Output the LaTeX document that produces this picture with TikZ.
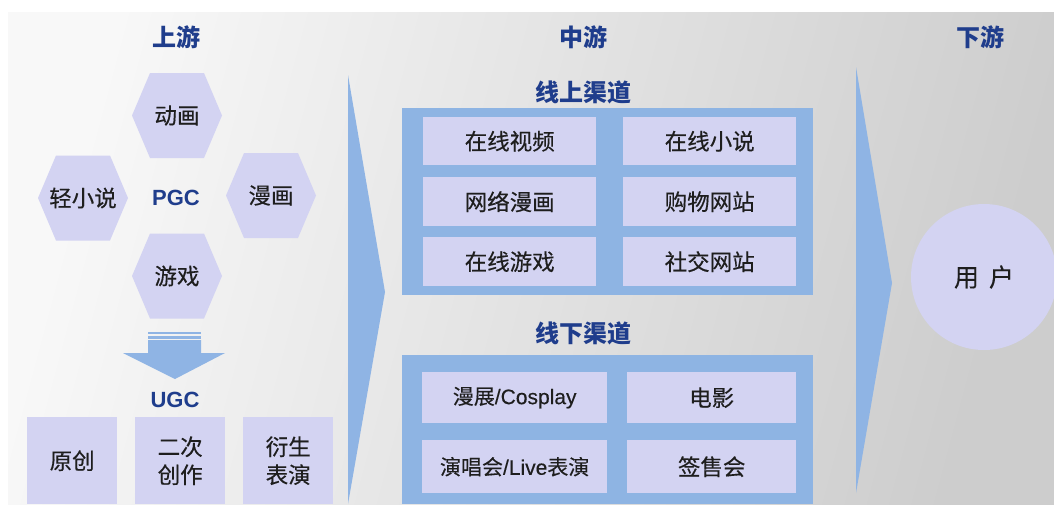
\documentclass[tikz,border=0pt]{standalone}
\usepackage{fontspec}
\setmainfont{Noto Sans CJK SC}
\newfontfamily\lat{Liberation Sans}
\newfontfamily\cjkm{Noto Sans CJK SC}[FakeBold=0.35]
\newfontfamily\latm{Liberation Sans}[FakeBold=0.35]
\usetikzlibrary{shapes.geometric}
\definecolor{hexc}{HTML}{D3D3F2}
\definecolor{panelc}{HTML}{8EB4E3}
\definecolor{arrowc}{HTML}{8FB4E4}
\definecolor{titlec}{HTML}{1F3D8C}
\definecolor{txtc}{HTML}{1E1E1E}
\definecolor{bgL}{HTML}{F8F8F8}
\definecolor{bgR}{HTML}{CDCDCD}
\newcommand\hexat[2]{\fill[hexc] (#1-45,#2) -- (#1-27,#2-42.5) -- (#1+27,#2-42.5) -- (#1+45,#2) -- (#1+27,#2+42.5) -- (#1-27,#2+42.5) -- cycle;}
\begin{document}
\begin{tikzpicture}[x=1pt,y=-1pt,
  lbl/.style={text=txtc,font=\cjkm\fontsize{22.5}{28}\selectfont,inner sep=0pt},
  ttl/.style={text=titlec,font=\fontsize{24}{28}\selectfont\bfseries,inner sep=0pt},
  latt/.style={text=titlec,font=\lat\fontsize{22}{26}\selectfont\bfseries,inner sep=0pt},
  box/.style={fill=hexc,draw=none,inner sep=0pt,anchor=north west},
]
\useasboundingbox (0,0) rectangle (1054,504);
\fill[white] (0,0) rectangle (1054,504);
\shade[left color=bgL,right color=bgR,shading angle=75] (8,12) rectangle (1054,504);

% titles
\node[ttl] (up) at (176,37) {上游};
\node[ttl] (mid) at (583,37) {中游};
\node[ttl] (down) at (980,37) {下游};

% hexagons
\hexat{177}{115.5}
\hexat{83}{198}
\hexat{271}{195.5}
\hexat{177}{276}
\node[lbl] (dh) at (177,115.5) {动画};
\node[lbl] (qxs) at (83,198) {轻小说};
\node[lbl] (mh) at (271,195.5) {漫画};
\node[lbl] (yx) at (177,276) {游戏};
\node[latt] (pgc) at (176,198) {PGC};

% down arrow
\fill[arrowc] (148,332) rectangle (201,334.2);
\fill[arrowc] (148,335.5) rectangle (201,338.5);
\fill[arrowc] (148,340) -- (201,340) -- (201,353) -- (225,353) -- (175,379) -- (123,353) -- (148,353) -- cycle;
\node[latt] (ugc) at (175,400) {UGC};

% UGC boxes
\node[box,minimum width=90pt,minimum height=87pt] (yc) at (27,417) {};
\node[box,minimum width=90pt,minimum height=87pt] (ec) at (135,417) {};
\node[box,minimum width=90pt,minimum height=87pt] (ys) at (243,417) {};
\node[lbl] at (yc.center) {原创};
\node[lbl,align=center] at (ec.center) {二次\\创作};
\node[lbl,align=center] at (ys.center) {衍生\\表演};

% middle chevrons
\fill[arrowc] (348,75) -- (385,292) -- (348,504) -- cycle;
\fill[arrowc] (856,67) -- (892,283) -- (856,493) -- cycle;

% online panel
\node[ttl] (on) at (583,92) {线上渠道};
\fill[panelc] (402,108) rectangle (813,295);
\node[box,minimum width=173pt,minimum height=48pt] (a1) at (423,117) {};
\node[box,minimum width=173pt,minimum height=48pt] (a2) at (623,117) {};
\node[box,minimum width=173pt,minimum height=49pt] (b1) at (423,177) {};
\node[box,minimum width=173pt,minimum height=49pt] (b2) at (623,177) {};
\node[box,minimum width=173pt,minimum height=49pt] (c1) at (423,237) {};
\node[box,minimum width=173pt,minimum height=49pt] (c2) at (623,237) {};
\node[lbl] at (a1.center) {在线视频};
\node[lbl] at (a2.center) {在线小说};
\node[lbl] at (b1.center) {网络漫画};
\node[lbl] at (b2.center) {购物网站};
\node[lbl] at (c1.center) {在线游戏};
\node[lbl] at (c2.center) {社交网站};

% offline panel
\node[ttl] (off) at (583,333) {线下渠道};
\fill[panelc] (402,355) rectangle (813,504);
\node[box,minimum width=185pt,minimum height=51pt] (d1) at (422,372) {};
\node[box,minimum width=169pt,minimum height=51pt] (d2) at (627,372) {};
\node[box,minimum width=185pt,minimum height=53pt] (e1) at (422,440) {};
\node[box,minimum width=169pt,minimum height=53pt] (e2) at (627,440) {};
\node[lbl,font=\cjkm\fontsize{21}{26}\selectfont] at (d1.center) {漫展{\latm /Cosplay}};
\node[lbl] at (d2.center) {电影};
\node[lbl,font=\cjkm\fontsize{21}{26}\selectfont] at (e1.center) {演唱会{\latm /Live}表演};
\node[lbl] at (e2.center) {签售会};

% user circle
\node[circle,fill=hexc,minimum size=146pt,inner sep=0pt] (user) at (984,277) {};
\node[lbl,font=\cjkm\fontsize{25}{28}\selectfont] at (user.center) {用\hspace{0.4em}户};
\end{tikzpicture}
\end{document}
